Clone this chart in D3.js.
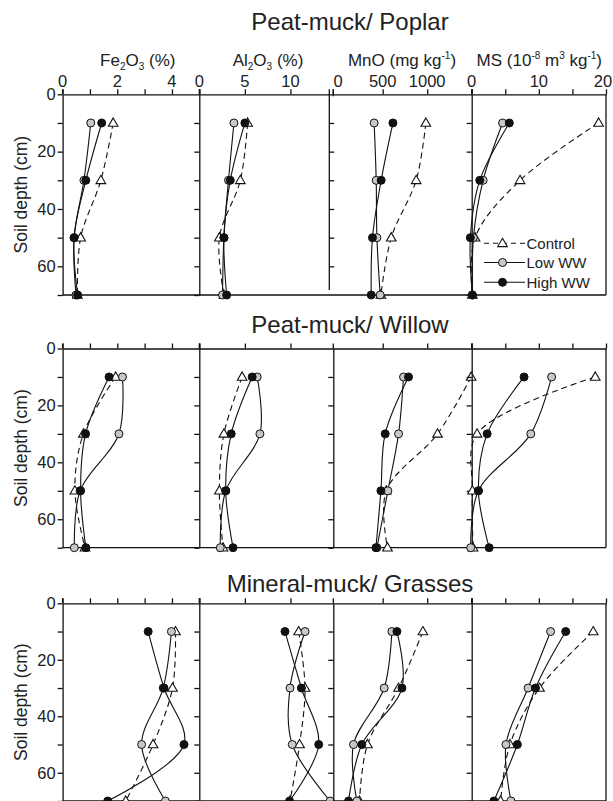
<!DOCTYPE html>
<html>
<head>
<meta charset="utf-8">
<script src="https://cdn.jsdelivr.net/npm/d3@7"></script>
<style>
body { margin: 0; background: #fff; }
svg { font-family: "Liberation Sans", Arial, sans-serif; }
.axis path, .axis line { stroke: #111; stroke-width: 1.3px; }
.axis text { font-size: 16.5px; fill: #222; }
</style>
</head>
<body>
<svg id="chart" width="613" height="801"></svg>
<script>
var depths = [10, 30, 50, 70];
var treatments = ["Control", "Low WW", "High WW"];
var siteTitles = ["Peat-muck/ Poplar", "Peat-muck/ Willow", "Mineral-muck/ Grasses"];

// each array: [control, low WW, high WW], values at depths 10,30,50,70 cm
var poplarFe  = [[1.85, 1.40, 0.66, 0.54], [1.03, 0.78, 0.42, 0.49], [1.43, 0.85, 0.42, 0.55]];
var poplarAl  = [[5.3, 4.5, 2.2, 2.7], [3.8, 3.2, 2.7, 2.55], [5.0, 3.4, 2.7, 3.0]];
var poplarMn  = [[985, 876, 596, 480], [404, 427, 435, 472], [615, 483, 385, 371]];
var poplarMS  = [[18.9, 7.2, 0.5, 0.1], [4.6, 1.7, 0.25, 0.1], [5.6, 1.2, -0.2, 0.1]];

var willowFe  = [[1.94, 0.76, 0.45, 0.82], [2.19, 2.06, 0.64, 0.43], [1.70, 0.84, 0.66, 0.85]];
var willowAl  = [[4.7, 2.7, 2.2, 2.6], [6.35, 6.65, 2.9, 2.3], [5.8, 3.5, 2.9, 3.7]];
var willowMn  = [[1494, 1116, 540, 554], [734, 678, 558, 435], [790, 528, 480, 424]];
var willowMS  = [[18.4, 0.8, 0.1, 0.2], [11.9, 8.8, 1.0, -0.15], [7.8, 2.3, 1.0, 2.6]];

var grassFe   = [[4.13, 4.02, 3.31, 2.31], [3.98, 3.68, 2.89, 3.76], [3.13, 3.71, 4.44, 1.65]];
var grassAl   = [[10.9, 11.6, 11.0, 9.95], [11.6, 9.95, 10.2, 14.35], [9.4, 11.2, 13.1, 9.9]];
var grassMn   = [[952, 678, 329, 239], [603, 517, 172, 210], [660, 716, 266, 116]];
var grassMS   = [[18.1, 10.1, 5.7, 4.3], [11.75, 8.4, 5.1, 5.85], [14.0, 9.5, 6.8, 3.3]];

var xDomains  = [[0, 5], [0, 14.7], [-55, 1500], [0, 20]];
var xTicks    = [[0, 1, 2, 3, 4, 5], [0, 5, 10], [500, 1000, 1500], [0, 5, 10, 15, 20]];
var xLabels   = [[0, 2, 4], [0, 5, 10], [0, 500, 1000], [0, 10, 20]];
var yTicks    = [0, 10, 20, 30, 40, 50, 60, 70];
var yLabels   = [0, 20, 40, 60];

var rowsData = [
  [poplarFe, poplarAl, poplarMn, poplarMS],
  [willowFe, willowAl, willowMn, willowMS],
  [grassFe, grassAl, grassMn, grassMS]
];

// layout
var colEdges = [[62.6, 199.3], [199.3, 333.3], [333.3, 471.7], [471.7, 606]];
var rowEdges = [[94.3, 295], [348.5, 547.7], [603.3, 801]];
var titleY = [30, 333, 591.5];

var svg = d3.select("#chart");

var x = xDomains.map(function(d, i) {
  return d3.scaleLinear().domain(d).range(colEdges[i]);
});
var y = rowEdges.map(function(r) {
  return d3.scaleLinear().domain([0, 70]).range(r);
});

var line = function(xs, ys) {
  return d3.line()
    .x(function(d) { return xs(d.v); })
    .y(function(d) { return ys(d.depth); })
    .curve(d3.curveCatmullRom.alpha(0.5));
};
var triangle = d3.symbol().type(d3.symbolTriangle).size(40);

rowsData.forEach(function(row, r) {
  var g = svg.append("g");
  var ys = y[r];

  g.append("text")
    .attr("x", 350).attr("y", titleY[r])
    .attr("text-anchor", "middle")
    .style("font-size", "24px").style("fill", "#222")
    .text(siteTitles[r]);

  // frame bottom + right
  g.append("line")
    .attr("x1", colEdges[0][0]).attr("x2", colEdges[3][1])
    .attr("y1", ys(70)).attr("y2", ys(70))
    .attr("stroke", "#111").attr("stroke-width", 1.3);
  g.append("line")
    .attr("x1", colEdges[3][1]).attr("x2", colEdges[3][1])
    .attr("y1", ys(0)).attr("y2", ys(70))
    .attr("stroke", "#111").attr("stroke-width", 1.3);

  row.forEach(function(series, c) {
    var xs = x[c];
    var left = colEdges[c][0];
    // odd offset axis in the first row, MnO panel
    if (r === 0 && c === 2) left = 329.3;

    // top axis
    var ax = g.append("g")
      .attr("class", "axis")
      .attr("transform", "translate(0," + ys(0) + ")")
      .call(d3.axisTop(xs).tickValues(xTicks[c]).tickSize(5).tickSizeOuter(0).tickFormat(""));
    ax.append("line")
      .attr("x1", colEdges[c][0]).attr("x2", colEdges[c][0])
      .attr("y1", 0).attr("y2", -5);
    if (r === 0) {
      ax.selectAll(".lab")
        .data(xLabels[c])
        .enter().append("text")
        .attr("x", function(d) { return Math.min(xs(d), 603); })
        .attr("y", -7)
        .attr("text-anchor", "middle")
        .text(function(d) { return d; });
    }

    // left axis of the panel
    var yaxis = (r === 0 && c === 2) ? d3.axisRight(ys) : d3.axisLeft(ys);
    var ay = g.append("g")
      .attr("class", "axis")
      .attr("transform", "translate(" + left + ",0)")
      .call(yaxis.tickValues(c === 0 ? yTicks : yTicks.slice(1, r === 0 && c === 2 ? 7 : 8))
        .tickSize(5).tickSizeOuter(0)
        .tickFormat(function(d) { return (c === 0 && yLabels.indexOf(d) >= 0) ? d : ""; }));
    ay.selectAll("text").attr("x", -7);
    if (r === 0 && c === 2) {
      ay.select(".domain").attr("d", "M0," + (ys(0) - 5) + "V" + (ys(70) - 5));
    }

    var pts = series.map(function(vals, t) {
      return vals.map(function(v, k) { return { v: v, depth: depths[k], t: t }; });
    });

    // lines
    pts.forEach(function(p, t) {
      g.append("path")
        .datum(p)
        .attr("d", line(xs, ys))
        .attr("fill", "none")
        .attr("stroke", "#111")
        .attr("stroke-width", 1.1)
        .attr("stroke-dasharray", t === 0 ? "6,4" : null);
    });

    // markers
    pts.forEach(function(p, t) {
      if (t === 0) {
        g.selectAll(null).data(p).enter().append("path")
          .attr("d", triangle)
          .attr("transform", function(d) { return "translate(" + xs(d.v) + "," + (ys(d.depth) + 0.5) + ")"; })
          .attr("fill", "#fff").attr("stroke", "#111").attr("stroke-width", 1.1);
      } else {
        g.selectAll(null).data(p).enter().append("circle")
          .attr("cx", function(d) { return xs(d.v); })
          .attr("cy", function(d) { return ys(d.depth); })
          .attr("r", 4)
          .attr("fill", t === 1 ? "#c8c8c8" : "#111")
          .attr("stroke", "#111").attr("stroke-width", 1);
      }
    });
  });

  if (r === 0) {
    // extra top tick at the MnO panel edge
    g.append("line")
      .attr("x1", 333.3).attr("x2", 333.3)
      .attr("y1", ys(0) - 5).attr("y2", ys(0) + 2)
      .attr("stroke", "#111").attr("stroke-width", 1.3);
  }

  // y title
  g.append("text")
    .attr("transform", "translate(27," + ((rowEdges[r][0] + rowEdges[r][1]) / 2) + ") rotate(-90)")
    .attr("text-anchor", "middle")
    .style("font-size", "17.5px").style("fill", "#222")
    .text("Soil depth (cm)");
});

// column headers
var headers = [
  [["Fe"], ["2", "sub"], ["O"], ["3", "sub"], [" (%)"]],
  [["Al"], ["2", "sub"], ["O"], ["3", "sub"], [" (%)"]],
  [["MnO (mg kg"], ["-1", "sup"], [")"]],
  [["MS (10"], ["-8", "sup"], [" m"], ["3", "sup"], [" kg"], ["-1", "sup"], [")"]]
];
var headerX = [137.8, 268, 402, 539.3];
headers.forEach(function(parts, i) {
  var t = svg.append("text")
    .attr("x", headerX[i]).attr("y", 66)
    .attr("text-anchor", "middle")
    .style("font-size", "17px").style("fill", "#222");
  var shift = 0;
  parts.forEach(function(p) {
    var target = p[1] === "sub" ? 4 : p[1] === "sup" ? -7 : 0;
    t.append("tspan")
      .attr("dy", target - shift)
      .style("font-size", p[1] ? "10px" : null)
      .text(p[0]);
    shift = target;
  });
});

// legend
var legY = [243.3, 262.5, 282.3];
var legG = svg.append("g");
treatments.forEach(function(name, t) {
  legG.append("line")
    .attr("x1", 484).attr("x2", 525)
    .attr("y1", legY[t]).attr("y2", legY[t])
    .attr("stroke", "#111").attr("stroke-width", 1.1)
    .attr("stroke-dasharray", t === 0 ? "5,4" : null);
  if (t === 0) {
    legG.append("path").attr("d", triangle)
      .attr("transform", "translate(502.5," + (legY[t] + 0.5) + ")")
      .attr("fill", "#fff").attr("stroke", "#111").attr("stroke-width", 1.1);
  } else {
    legG.append("circle").attr("cx", 502.5).attr("cy", legY[t]).attr("r", 4)
      .attr("fill", t === 1 ? "#c8c8c8" : "#111").attr("stroke", "#111");
  }
  legG.append("text")
    .attr("x", 526.5).attr("y", legY[t] + 5.5)
    .style("font-size", "15px").style("fill", "#222")
    .text(name);
});
</script>
</body>
</html>
